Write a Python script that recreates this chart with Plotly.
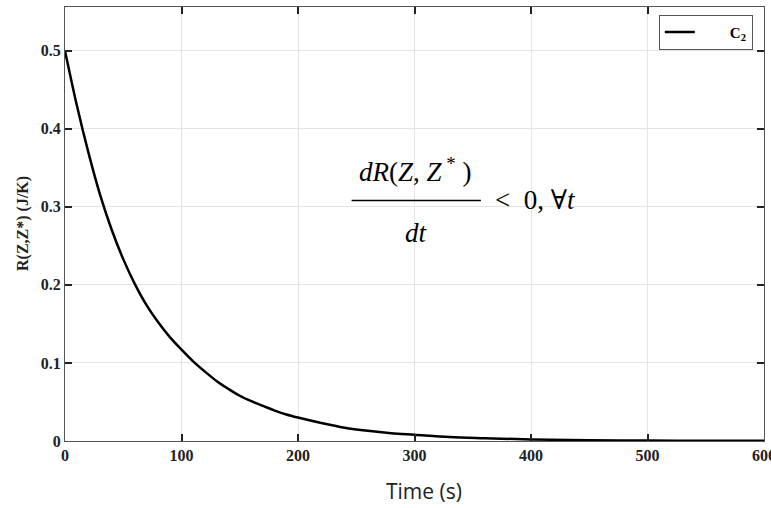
import plotly.graph_objects as go

# values (time in s, R in J/K)
time_s = [0, 10, 20, 30, 40, 50, 60, 70, 80, 90, 100, 110, 120, 130, 140, 150,
          160, 170, 180, 190, 200, 220, 240, 260, 280, 300, 330, 360, 400,
          450, 500, 550, 600]
r_vals = [0.500, 0.431, 0.370, 0.316, 0.271, 0.233, 0.201, 0.174, 0.152, 0.133,
          0.117, 0.102, 0.089, 0.077, 0.067, 0.058, 0.051, 0.045, 0.039, 0.034,
          0.030, 0.023, 0.017, 0.013, 0.010, 0.008, 0.005, 0.0035, 0.002,
          0.001, 0.0005, 0.0003, 0.0002]

x_ticks = [0, 100, 200, 300, 400, 500, 600]
y_ticks = [0, 0.1, 0.2, 0.3, 0.4, 0.5]
y_tick_text = ["0", "0.1", "0.2", "0.3", "0.4", "0.5"]

serif = "Liberation Serif"

fig = go.Figure()
fig.add_trace(go.Scatter(x=time_s, y=r_vals, mode="lines",
                         name="&nbsp;&nbsp;&nbsp;&nbsp;&nbsp;&nbsp;&nbsp;&nbsp;<b>C<sub>2</sub></b>",
                         line=dict(color="black", width=2.5, shape="spline")))

axis_common = dict(
    showgrid=True, gridcolor="#e4e4e4", gridwidth=1,
    showline=True, linecolor="#555555", linewidth=1, mirror="ticks",
    ticks="inside", ticklen=7, tickcolor="#222222", tickwidth=1.5,
    zeroline=False, ticklabeloverflow="allow",
    tickfont=dict(family=serif, size=16, color="#222222", weight="bold"),
)

fig.update_layout(
    width=771, height=508,
    margin=dict(l=65, r=7, t=7, b=67, autoexpand=False),
    paper_bgcolor="white", plot_bgcolor="white",
    xaxis=dict(range=[0, 600], tickvals=x_ticks, automargin=False, **axis_common),
    yaxis=dict(range=[0, 0.556], tickvals=y_ticks, ticktext=y_tick_text,
               automargin=False, **axis_common),
    showlegend=True,
    legend=dict(x=0.984, y=0.982, xanchor="right", yanchor="top",
                bgcolor="white", bordercolor="#555555", borderwidth=1,
                font=dict(family=serif, size=15, color="black"),
                tracegroupgap=0),
)

# fraction dR(Z,Z*)/dt < 0
eq_font = dict(family=serif, size=27, color="black")
fig.add_annotation(x=300, y=0.347, xref="x", yref="y", showarrow=False,
                   text="<i>dR</i>(<i>Z</i>, <i>Z</i><sup> *</sup> )", font=eq_font)
fig.add_annotation(x=302, y=0.267, xref="x", yref="y", showarrow=False,
                   text="<i>dt</i>", font=eq_font)
fig.add_annotation(x=404, y=0.309, xref="x", yref="y", showarrow=False,
                   text="&lt;  0, <span style=\"font-family:DejaVu Serif\">∀</span><i>t</i>",
                   font=eq_font)
fig.add_shape(type="line", x0=246, x1=357, y0=0.308, y1=0.308, xref="x", yref="y",
              line=dict(color="black", width=1.5))

# axis titles
fig.add_annotation(x=(23 - 65) / 699, y=(441 - 224) / 434, xref="paper", yref="paper",
                   showarrow=False, textangle=-90, xanchor="center", yanchor="middle",
                   text="<b>R(Z,Z*) (J/K)</b>",
                   font=dict(family=serif, size=16, color="#222222"))
fig.add_annotation(x=(424 - 65) / 699, y=-(491 - 441) / 434, xref="paper", yref="paper",
                   showarrow=False, xanchor="center", yanchor="middle",
                   text="Time (s)",
                   font=dict(family="Open Sans", size=21, color="#222222"))

fig.write_html("out.html", config={"displayModeBar": False},
               post_script="document.body.style.margin='0';")
